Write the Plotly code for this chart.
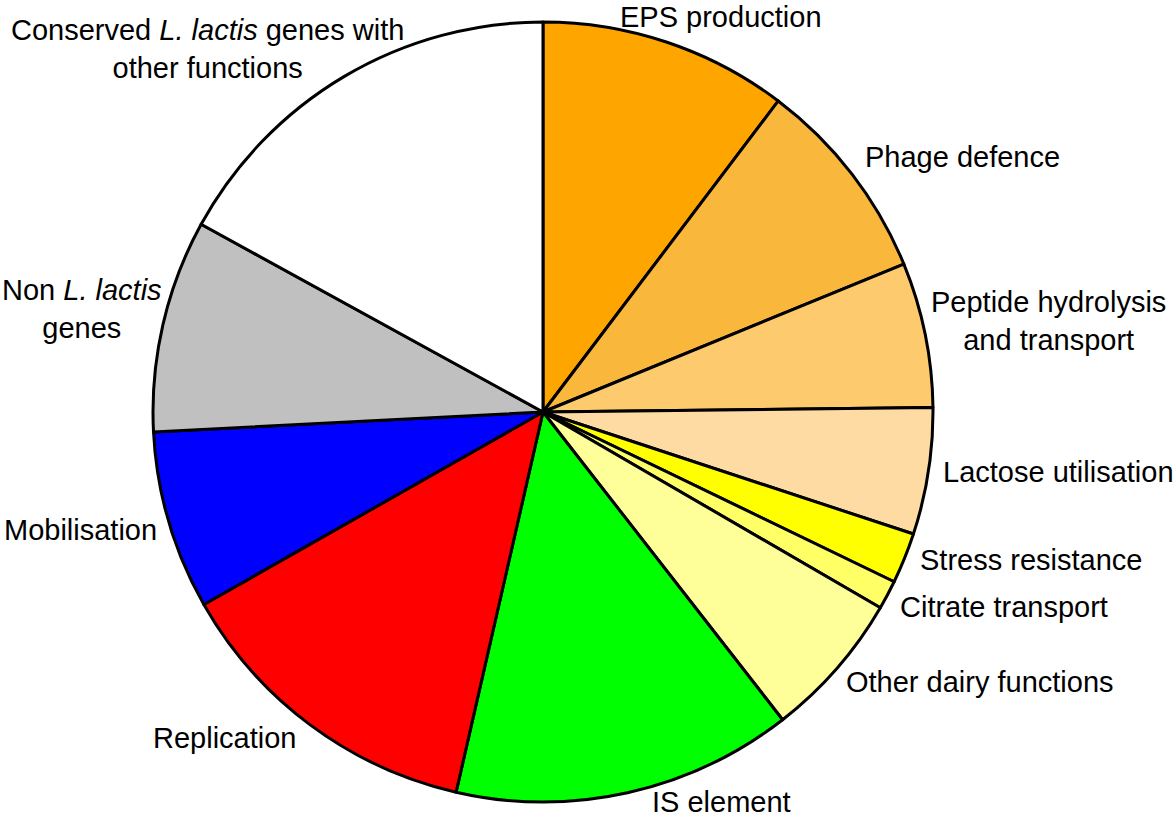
import plotly.graph_objects as go

categories = ["EPS production", "Phage defence", "Peptide hydrolysis and transport",
              "Lactose utilisation", "Stress resistance", "Citrate transport",
              "Other dairy functions", "IS element", "Replication", "Mobilisation",
              "Non L. lactis genes", "Conserved L. lactis genes with other functions"]
values = [10.3, 8.5, 6.0, 5.25, 2.1, 1.2, 6.1, 14.1, 13.2, 7.4, 8.8, 17.0]
colors = ["#FFA500", "#F9B83C", "#FDCB6E", "#FDDBA2", "#FFFF00", "#FFFF66",
          "#FFFF99", "#00FF00", "#FF0000", "#0000FF", "#C0C0C0", "#FFFFFF"]

# label text (rich) and pixel anchor positions (layout only)
label_texts = ["EPS production", "Phage defence", "Peptide hydrolysis<br>and transport",
               "Lactose utilisation", "Stress resistance", "Citrate transport",
               "Other dairy functions", "IS element", "Replication", "Mobilisation",
               "Non <i>L. lactis</i><br>genes",
               "Conserved <i>L. lactis</i> genes with<br>other functions"]
label_px = [(721, 17), (962, 157), (1048, 321), (1058, 472), (1031, 560), (1004, 607),
            (980, 682), (721, 802), (224, 738), (80, 530), (82, 309), (207, 49)]

W, H = 1176, 818
cx, cy, r = 543, 412, 390

fig = go.Figure(go.Pie(
    labels=categories,
    values=values,
    sort=False,
    direction="clockwise",
    rotation=0,
    marker=dict(colors=colors, line=dict(color="black", width=3)),
    textinfo="none",
    hoverinfo="label+percent",
    showlegend=False,
    domain=dict(x=[(cx - r) / W, (cx + r) / W], y=[1 - (cy + r) / H, 1 - (cy - r) / H]),
))

for txt, (px, py) in zip(label_texts, label_px):
    fig.add_annotation(
        x=px / W, y=1 - py / H, xref="paper", yref="paper",
        text=txt, showarrow=False, xanchor="center", yanchor="middle",
        align="center",
        font=dict(family="Liberation Sans, Arial, sans-serif", size=29, color="black"),
    )

fig.update_layout(
    width=W, height=H,
    margin=dict(l=0, r=0, t=0, b=0),
    paper_bgcolor="white",
    plot_bgcolor="white",
)

fig.write_html("out.html", config={"displayModeBar": False},
               post_script="document.body.style.margin='0';")
